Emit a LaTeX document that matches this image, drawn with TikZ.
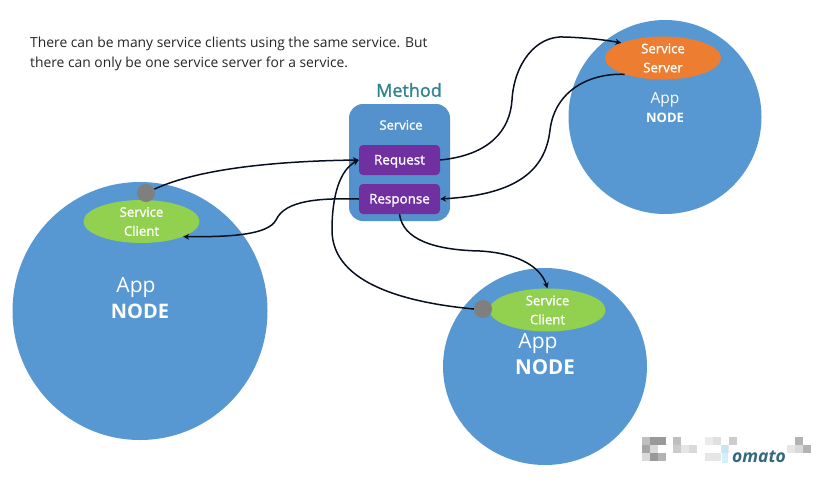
\documentclass[tikz,border=0pt]{standalone}
\usepackage{fontspec}
\setmainfont{Open Sans}
\newfontfamily\semifont[FakeBold=1.4]{Open Sans}
\usetikzlibrary{shapes.geometric,arrows.meta}
\definecolor{appblue}{RGB}{88,152,210}
\definecolor{boxblue}{RGB}{84,146,205}
\definecolor{reqpurple}{RGB}{112,48,160}
\definecolor{cligreen}{RGB}{146,208,80}
\definecolor{srvorange}{RGB}{237,125,49}
\definecolor{dotgray}{RGB}{127,127,127}
\definecolor{methodteal}{RGB}{49,133,145}
\definecolor{wire}{RGB}{8,16,32}
\definecolor{markteal}{RGB}{50,105,125}
\tikzset{
  app/.style={ellipse,fill=appblue,inner sep=0pt},
  role/.style={ellipse,inner sep=0pt,minimum width=116pt,minimum height=43pt,align=center,text=white,font=\fontsize{13.2}{19}\semifont},
  call/.style={rounded corners=4pt,fill=reqpurple,text=white,minimum width=81pt,minimum height=30pt,inner sep=0pt,text height=9pt,text depth=0pt,font=\fontsize{13.4}{15}\semifont},
  stub/.style={circle,fill=dotgray,minimum size=18pt,inner sep=0pt},
  wirearrow/.style={draw=wire,line width=1.5pt,-{Stealth[length=6pt,width=6pt]}},
  wmark/.style={fill=black,inner sep=0pt,minimum size=8pt}
}
\begin{document}
\begin{tikzpicture}[x=1pt,y=-1pt]
\useasboundingbox (0,0) rectangle (835,485);
\fill[white] (0,0) rectangle (835,485);
% text at the top
\node[anchor=north west,inner sep=0pt,align=left,font=\fontsize{13.85}{20}\selectfont,text=black!85] (Note) at (30,37) {There can be many service clients using the same service. But\\there can only be one service server for a service.};
% the three apps
\node[app,minimum width=255pt,minimum height=258pt] (App_L) at (140,311) {};
\node[app,minimum width=193pt,minimum height=194pt] (App_S) at (665,117) {};
\node[app,minimum width=204pt,minimum height=197pt] (App_B) at (545,366.5) {};
\node[text=white,font=\fontsize{21}{25}\selectfont] (AppTxt_L) at (136,287) {App};
\node[text=white,font=\fontsize{20}{24}\selectfont\bfseries] (NodeTxt_L) at (140,311) {NODE};
\node[text=white,font=\fontsize{15.5}{18}\selectfont] (AppTxt_S) at (665,100) {App};
\node[text=white,font=\fontsize{13}{16}\selectfont\bfseries] (NodeTxt_S) at (665,118) {NODE};
\node[text=white,font=\fontsize{21}{25}\selectfont] (AppTxt_B) at (538,343) {App};
\node[text=white,font=\fontsize{20.5}{22}\selectfont\bfseries] (NodeTxt_B) at (545,367) {NODE};
% service box
\node[text=methodteal,font=\fontsize{18}{20}\semifont] (Method) at (409,90) {Method};
\node[rounded corners=14pt,fill=boxblue,minimum width=101pt,minimum height=117pt,inner sep=0pt] (Box) at (399.5,162.5) {};
\node[text=white,font=\fontsize{13}{15}\semifont] (Service) at (401,125) {Service};
\node[call] (Request) at (399.5,160) {Request};
\node[call] (Response) at (399.5,199) {Response};
% roles
\node[role,fill=srvorange] (Server) at (663,58) {Service\\Server};
\node[role,fill=cligreen] (Client_L) at (141.5,221.5) {Service\\Client};
\node[role,fill=cligreen] (Client_B) at (547.5,310) {Service\\Client};
\node[stub] (Stub_L) at (146,193) {};
\node[stub] (Stub_B) at (483,309) {};
% connectors
\draw[wirearrow] (Stub_L) .. controls (200,168) and (280,161) .. (Request.west);
\draw[wirearrow] (Stub_B.west) .. controls (410,303) and (332,285) .. (332,230) .. controls (332,195) and (340,170) .. (Request.west);
\draw[wirearrow] (Request.east) .. controls (490,155) and (510,130) .. (512,100) .. controls (514,65) and (535,35) .. (565,37) .. controls (590,38) and (605,40) .. (Server.160);
\draw[wirearrow] (Server.203) .. controls (590,73) and (555,90) .. (550,130) .. controls (545,175) and (510,195) .. (Response.east);
\draw[wirearrow] (Response.west) .. controls (320,198) and (285,200) .. (276,220) .. controls (268,235) and (230,237) .. (Client_L.340);
\draw[wirearrow] (Response.south) .. controls (403,240) and (435,250) .. (480,251) .. controls (515,253) and (540,265) .. (Client_B.north);
% watermark
\foreach \wx/\wy/\wo in {646/441/25,654/441/40,662/441/40,646/449/35,654/449/15,646/457/15,654/457/40,662/457/30,677/441/25,677/449/20,685/449/10,693/449/15,709/441/8,717/441/12,733/441/20,709/457/10,717/457/10,725/449/10,791/449/10,799/441/30,799/449/15,807/449/30}
  \node[wmark,opacity=\wo/100] at (\wx,\wy) {};
\fill[cyan!30,opacity=0.6] (722,445) rectangle (728,463);
\node[text=markteal,font=\fontsize{17.5}{18}\selectfont\bfseries\itshape] (Mark) at (759,457) {omato};
\end{tikzpicture}
\end{document}
